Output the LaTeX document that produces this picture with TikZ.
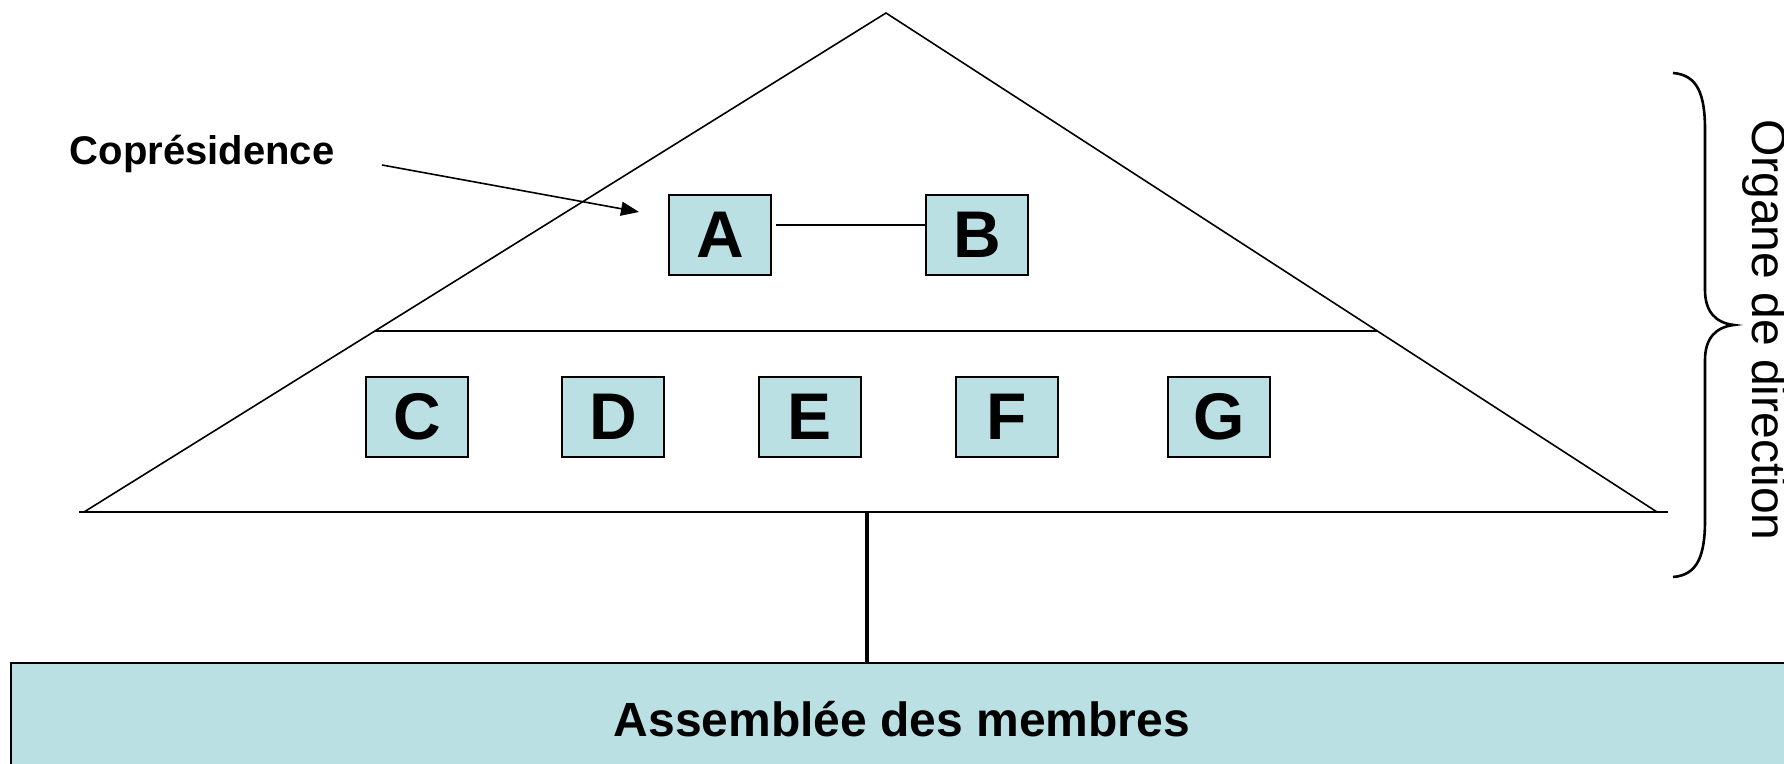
\documentclass[tikz,border=0pt]{standalone}
\usepackage{fontspec}
\setmainfont{Liberation Sans}
\usetikzlibrary{arrows.meta}
\definecolor{boxfill}{RGB}{187,224,227}
\begin{document}
\begin{tikzpicture}[x=0.5pt,y=-0.5pt]
   \tikzset{member/.style = {shape=rectangle,draw,fill=boxfill,line width=0.8pt,minimum width=51pt,minimum height=40pt,inner sep=0pt,font=\fontsize{33}{33}\selectfont\bfseries}}
   \useasboundingbox (0,0) rectangle (1784,764);

   \coordinate (apex) at (886,13);
   \coordinate (left) at (84,512);
   \coordinate (right) at (1657,512);
   \draw[line width=0.8pt] (left) -- (apex) -- (right);
   \draw[line width=1pt] (79,512) -- (1668,512);
   \draw[line width=0.8pt] (375,331) -- (1377,331);

   \node[member] (A) at (720,235) {A};
   \node[member] (B) at (977,235) {B};
   \node[member] (C) at (417,417) {C};
   \node[member] (D) at (613,417) {D};
   \node[member] (E) at (810,417) {E};
   \node[member] (F) at (1007,417) {F};
   \node[member] (G) at (1219,417) {G};
   \draw[line width=0.8pt] ([shift={(4,-10)}]A.east) -- ([yshift=5pt]B.west);

   \node[font=\fontsize{20}{20}\selectfont\bfseries] (copres) at (202,154) {Coprésidence};
   \coordinate (copres-tail) at (382,165);
   \coordinate (copres-tip) at (639,212);
   \draw[line width=0.8pt,-{Triangle[length=9pt,width=7pt]}] (copres-tail) -- (copres-tip);

   \node[shape=rectangle,draw,fill=boxfill,line width=1pt,minimum width=891pt,minimum height=56pt,inner sep=0pt,
         font=\fontsize{24}{24}\selectfont\bfseries] (assembly) at (902,719) {Assemblée des membres};
   \coordinate (join) at (867,512);
   \draw[line width=2.4pt] (join) -- (join |- assembly.north);

   \draw[line width=1.3pt] (1673,73) .. controls (1698,75) and (1705,95) .. (1705,130) -- (1705,290)
      .. controls (1705,312) and (1716,323) .. (1734,325) .. controls (1716,327) and (1705,338) .. (1705,360)
      -- (1705,520) .. controls (1705,555) and (1698,575) .. (1673,577);
   \node[rotate=-90,anchor=base,font=\fontsize{24}{24}\selectfont] (organe) at (1752,330) {Organe de direction};
\end{tikzpicture}
\end{document}
